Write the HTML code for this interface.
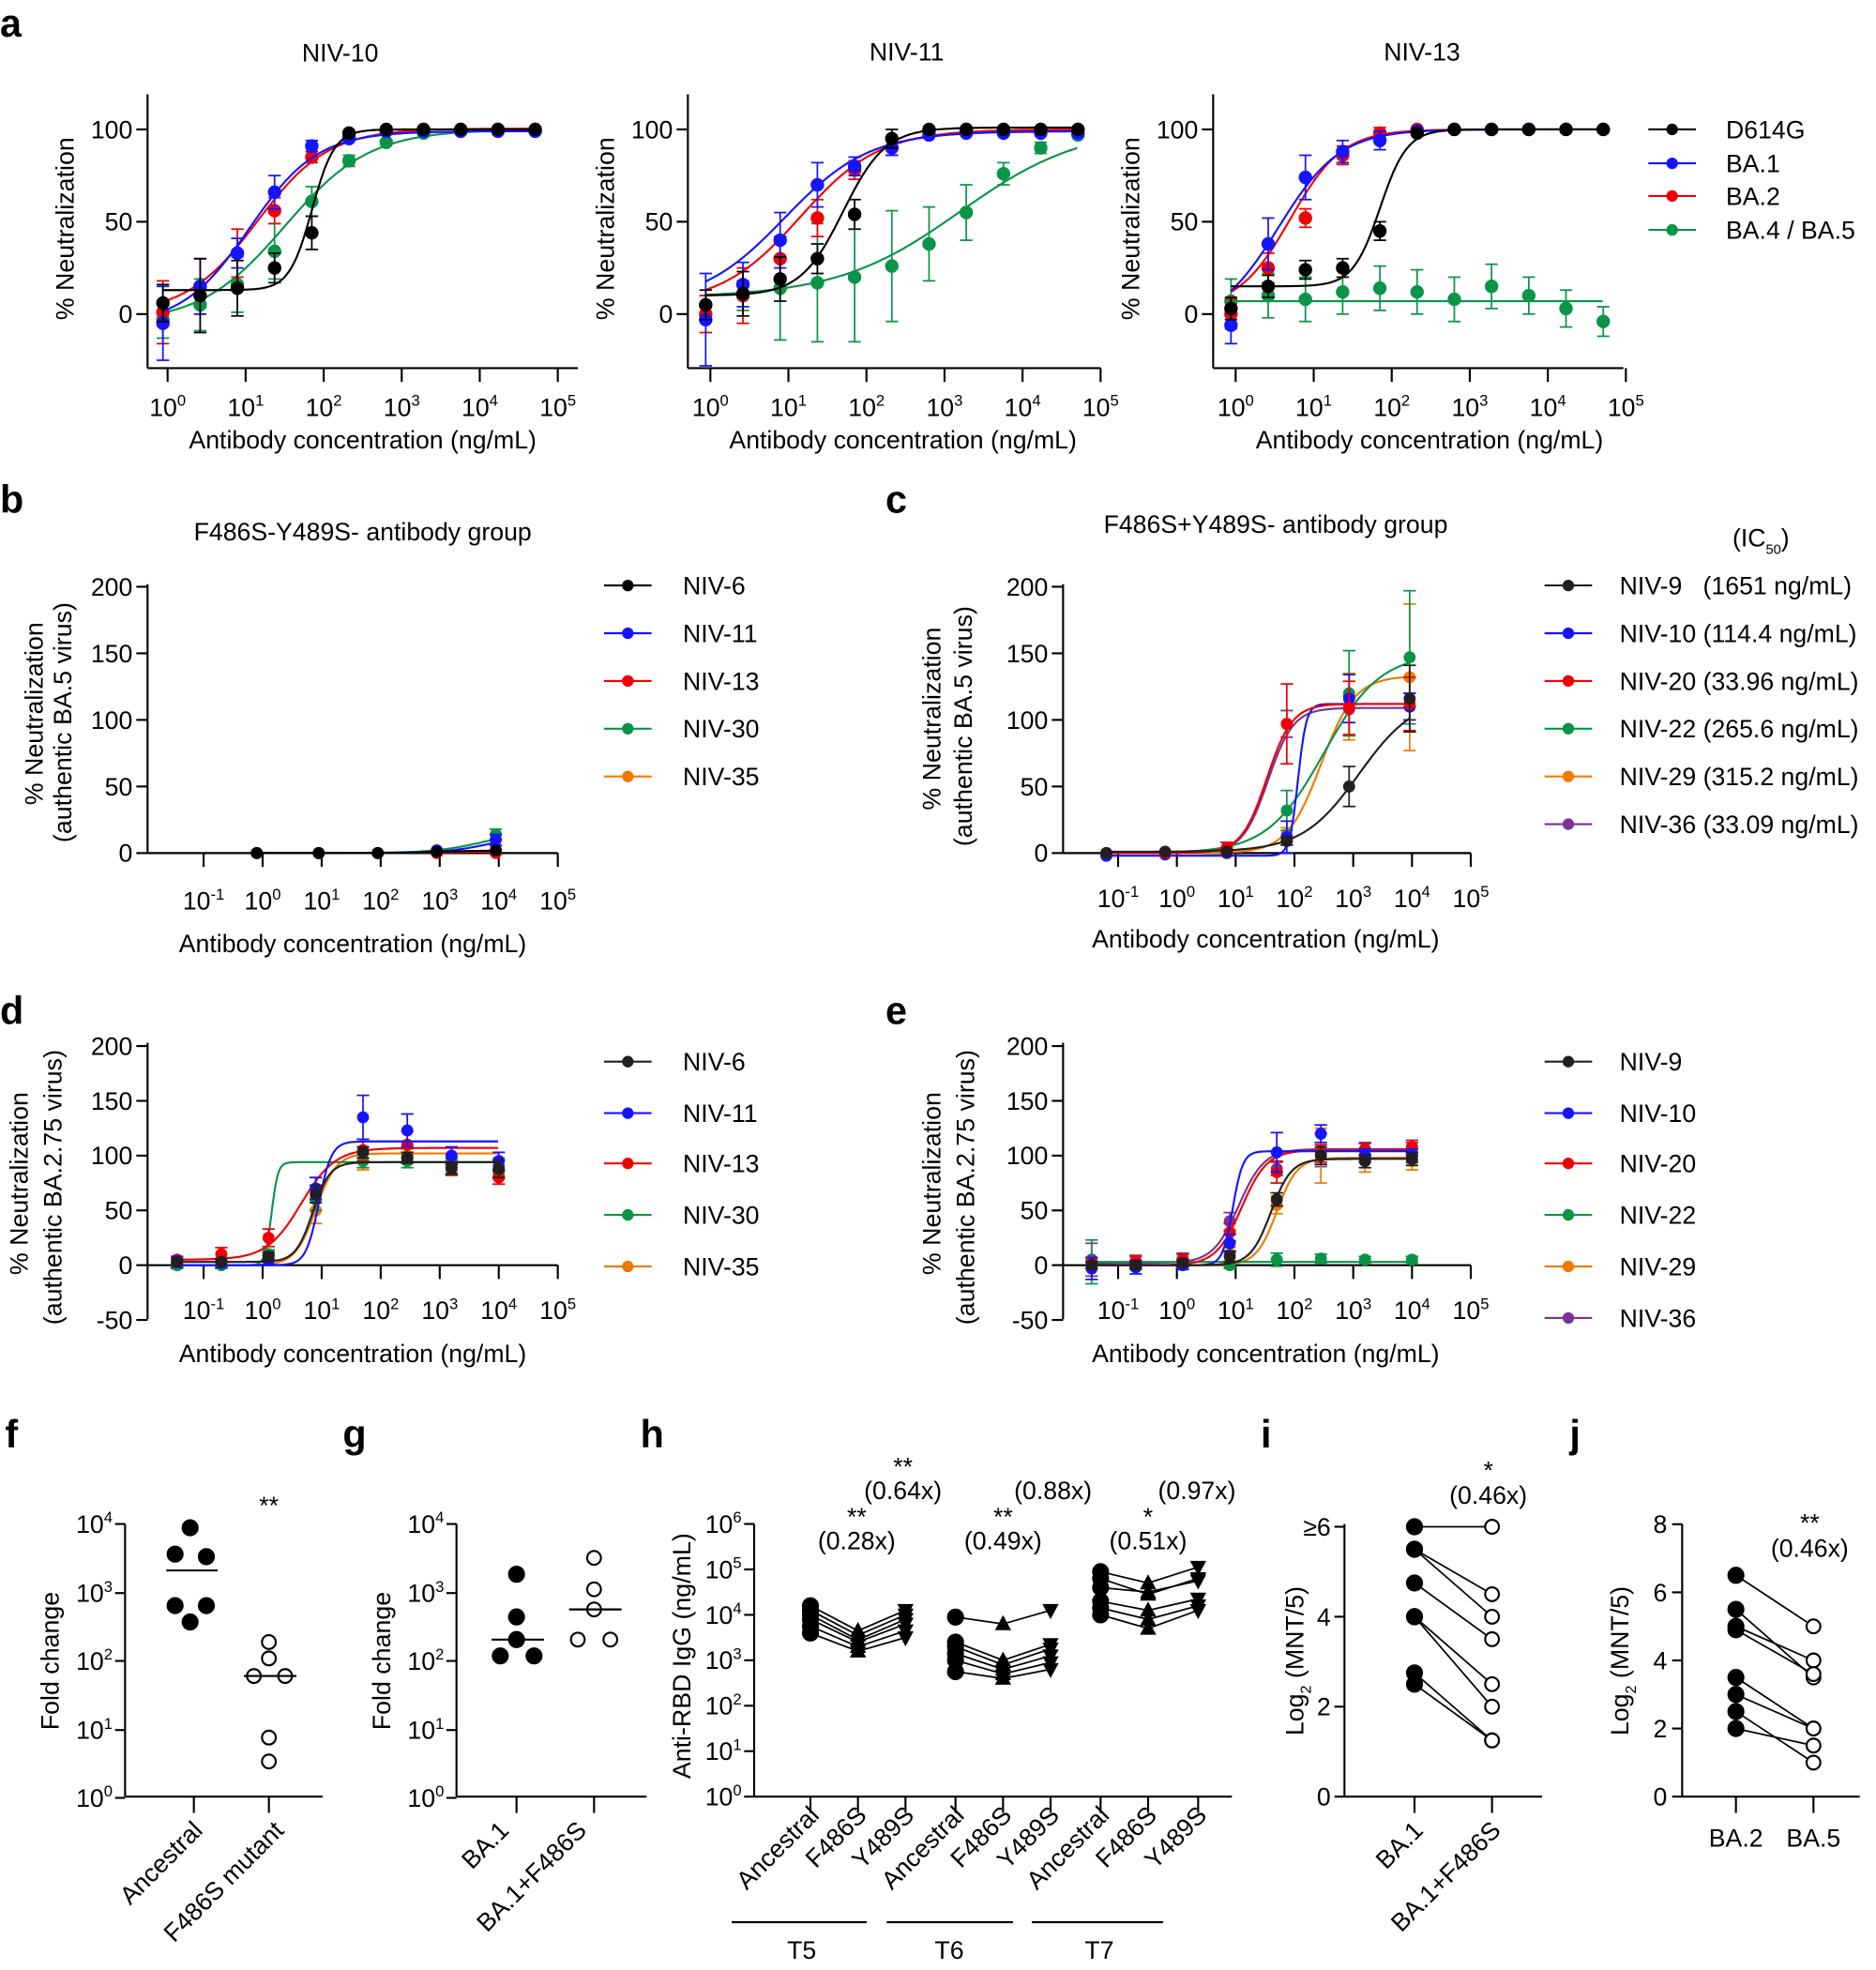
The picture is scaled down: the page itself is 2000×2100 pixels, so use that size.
<!DOCTYPE html>
<html><head><meta charset="utf-8">
<style>html,body{margin:0;padding:0;background:#fff}svg{display:block}text{font-family:"Liberation Sans",Arial,sans-serif;fill:#000}</style>
</head><body>
<svg id="s" xmlns="http://www.w3.org/2000/svg" width="2000" height="2100" viewBox="0 0 1500 1568" preserveAspectRatio="none">
<rect width="1500" height="1568" fill="#fff"/>
<g font-size="31" font-weight="bold">
<text x="0" y="29">a</text><text x="0" y="408">b</text><text x="708" y="408">c</text>
<text x="0" y="815">d</text><text x="708" y="815">e</text>
<text x="4" y="1152">f</text><text x="274" y="1152">g</text><text x="512" y="1152">h</text><text x="1008" y="1152">i</text><text x="1255" y="1152">j</text>
</g>
<g font-size="20" text-anchor="middle">
<text x="272" y="49">NIV-10</text><text x="725" y="48">NIV-11</text><text x="1137" y="48">NIV-13</text>
<text x="290" y="430">F486S-Y489S- antibody group</text>
<text x="1020" y="424">F486S+Y489S- antibody group</text>
<text x="1408" y="435">(IC<tspan dy="6" font-size="11">50</tspan><tspan dy="-6">)</tspan></text>
<text x="290" y="357">Antibody concentration (ng/mL)</text>
<text x="722" y="357">Antibody concentration (ng/mL)</text>
<text x="1143" y="357">Antibody concentration (ng/mL)</text>
<text x="282" y="758">Antibody concentration (ng/mL)</text>
<text x="1012" y="754">Antibody concentration (ng/mL)</text>
<text x="282" y="1084">Antibody concentration (ng/mL)</text>
<text x="1012" y="1084">Antibody concentration (ng/mL)</text>
<text x="59" y="182" transform="rotate(-90 59 182)">% Neutralization</text>
<text x="491" y="182" transform="rotate(-90 491 182)">% Neutralization</text>
<text x="911" y="182" transform="rotate(-90 911 182)">% Neutralization</text>
<text x="34" y="568" transform="rotate(-90 34 568)">%  Neutralization</text>
<text x="57" y="575" transform="rotate(-90 57 575)">(authentic BA.5 virus)</text>
<text x="752" y="572" transform="rotate(-90 752 572)">%  Neutralization</text>
<text x="777" y="578" transform="rotate(-90 777 578)">(authentic BA.5 virus)</text>
<text x="22" y="942" transform="rotate(-90 22 942)">% Neutralization</text>
<text x="49" y="945" transform="rotate(-90 49 945)">(authentic BA.2.75 virus)</text>
<text x="752" y="942" transform="rotate(-90 752 942)">% Neutralization</text>
<text x="779" y="945" transform="rotate(-90 779 945)">(authentic BA.2.75 virus)</text>
<text x="47" y="1322" transform="rotate(-90 47 1322)">Fold change</text>
<text x="312" y="1322" transform="rotate(-90 312 1322)">Fold change</text>
<text x="552" y="1318" transform="rotate(-90 552 1318)">Anti-RBD IgG (ng/mL)</text>
<text x="1042" y="1322" transform="rotate(-90 1042 1322)">Log<tspan dy="6" font-size="12">2</tspan><tspan dy="-6"> (MNT/5)</tspan></text>
<text x="1302" y="1322" transform="rotate(-90 1302 1322)">Log<tspan dy="6" font-size="12">2</tspan><tspan dy="-6"> (MNT/5)</tspan></text>
<text x="215" y="1205">**</text>
<text x="685" y="1214">**</text><text x="685" y="1233">(0.28x)</text>
<text x="722" y="1174">**</text><text x="722" y="1193">(0.64x)</text>
<text x="802" y="1214">**</text><text x="802" y="1233">(0.49x)</text>
<text x="842" y="1193">(0.88x)</text>
<text x="918" y="1214">*</text><text x="918" y="1233">(0.51x)</text>
<text x="957" y="1193">(0.97x)</text>
<text x="1190" y="1177">*</text><text x="1190" y="1197">(0.46x)</text>
<text x="1447" y="1219">**</text><text x="1447" y="1239">(0.46x)</text>
<text x="641" y="1559">T5</text><text x="759" y="1559">T6</text><text x="879" y="1559">T7</text>
<text x="1388" y="1470">BA.2</text><text x="1450" y="1470">BA.5</text>
</g>
<g font-size="20" text-anchor="end">
<text x="163" y="1458" transform="rotate(-45 163 1458)">Ancestral</text>
<text x="228" y="1458" transform="rotate(-45 228 1458)">F486S mutant</text>
<text x="408" y="1458" transform="rotate(-45 408 1458)">BA.1</text>
<text x="470" y="1458" transform="rotate(-45 470 1458)">BA.1+F486S</text>
<text x="656" y="1446" transform="rotate(-45 656 1446)">Ancestral</text>
<text x="694" y="1446" transform="rotate(-45 694 1446)">F486S</text>
<text x="732" y="1446" transform="rotate(-45 732 1446)">Y489S</text>
<text x="772" y="1446" transform="rotate(-45 772 1446)">Ancestral</text>
<text x="810" y="1446" transform="rotate(-45 810 1446)">F486S</text>
<text x="848" y="1446" transform="rotate(-45 848 1446)">Y489S</text>
<text x="888" y="1446" transform="rotate(-45 888 1446)">Ancestral</text>
<text x="926" y="1446" transform="rotate(-45 926 1446)">F486S</text>
<text x="966" y="1446" transform="rotate(-45 966 1446)">Y489S</text>
<text x="1139" y="1458" transform="rotate(-45 1139 1458)">BA.1</text>
<text x="1201" y="1458" transform="rotate(-45 1201 1458)">BA.1+F486S</text>
</g>
<g font-size="20">
<text x="1380" y="110">D614G</text><text x="1380" y="137">BA.1</text><text x="1380" y="163">BA.2</text><text x="1380" y="190">BA.4 / BA.5</text>
<text x="546" y="473">NIV-6</text><text x="546" y="511">NIV-11</text><text x="546" y="549">NIV-13</text><text x="546" y="587">NIV-30</text><text x="546" y="625">NIV-35</text>
<text x="1295" y="473">NIV-9 &#160; (1651 ng/mL)</text><text x="1295" y="511">NIV-10 (114.4 ng/mL)</text><text x="1295" y="549">NIV-20 (33.96 ng/mL)</text>
<text x="1295" y="587">NIV-22 (265.6 ng/mL)</text><text x="1295" y="625">NIV-29 (315.2 ng/mL)</text><text x="1295" y="663">NIV-36 (33.09 ng/mL)</text>
<text x="546" y="852">NIV-6</text><text x="546" y="893">NIV-11</text><text x="546" y="933">NIV-13</text><text x="546" y="974">NIV-30</text><text x="546" y="1015">NIV-35</text>
<text x="1295" y="852">NIV-9</text><text x="1295" y="893">NIV-10</text><text x="1295" y="933">NIV-20</text><text x="1295" y="974">NIV-22</text><text x="1295" y="1015">NIV-29</text><text x="1295" y="1056">NIV-36</text>
</g>
<g id="dyn"></g>
</svg>
<script>
var P=[];
var K='#000',B='#1414ff',R='#f00000',G='#0a9447',O='#f07a00',U='#7b3294';
function L(a,b,c,d,s,w){P.push('<line x1="'+a+'" y1="'+b+'" x2="'+c+'" y2="'+d+'" stroke="'+(s||'#000')+'" stroke-width="'+(w||1.6)+'"/>');}
function T(x,y,s,an){P.push('<text x="'+x+'" y="'+y+'" font-size="20" text-anchor="'+(an||'middle')+'">'+s+'</text>');}
function E(x,y,e,an){P.push('<text x="'+x+'" y="'+y+'" font-size="20" text-anchor="'+(an||'middle')+'">10<tspan dy="-8" font-size="12.5">'+e+'</tspan></text>');}
function C(x,y,r,f,s){P.push('<circle cx="'+x+'" cy="'+y+'" r="'+r+'" fill="'+f+'" stroke="'+(s||f)+'" stroke-width="1.6"/>');}
function PL(pts,s,w){P.push('<polyline points="'+pts.map(function(p){return p[0].toFixed(1)+','+p[1].toFixed(1)}).join(' ')+'" fill="none" stroke="'+s+'" stroke-width="'+(w||1.6)+'"/>');}
function f4(x,b,t,l,h){return b+(t-b)/(1+Math.pow(10,(l-x)*h));}
function plot(c){
  var xo=c.xo,dec=c.dec,yOf=c.yOf;
  function X(l){return xo+dec*l;}
  L(c.x0,c.yTop,c.x0,c.yBot);L(c.x0,c.xAy,c.x1,c.xAy);
  c.yt.forEach(function(v){var y=yOf(v);L(c.x0-9,y,c.x0,y);T(c.x0-12,y+7,String(v),'end');});
  for(var e=c.e0;e<=5;e++){var x=X(e);L(x,c.xAy,x,c.xAy+11);E(x,c.ly,e);}
  c.s.forEach(function(s){
    var pts=[];for(var l=s.L[0];l<=s.L[s.L.length-1]+0.001;l+=0.02)pts.push([X(l),yOf(f4(l,s.b,s.t,s.l,s.h))]);
    PL(pts,s.c);
    s.v.forEach(function(v,i){var x=X(s.L[i]);var er=s.e?s.e[i]:3;
      if(er>2){L(x,yOf(v-er),x,yOf(v+er),s.c,1.3);L(x-5,yOf(v-er),x+5,yOf(v-er),s.c,1.3);L(x-5,yOf(v+er),x+5,yOf(v+er),s.c,1.3);}
      C(x,yOf(v),c.r,s.c);});
  });
}
function leg(x1,x2,ys,cols){ys.forEach(function(y,i){L(x1,y,x2,y,cols[i],1.6);C((x1+x2)/2,y,3.8,cols[i]);});}
var La=[];for(var i=0;i<11;i++)La.push(-0.06+0.477*i);
var ya=function(v){return 250-v*1.47;};
var A=[
 {x0:118,x1:462,xo:134,s:[
  {c:G,b:-5,t:100,l:1.5,h:0.8,v:[-3,5,16,34,61,83,93,98,99,99,99],e:[10,14,15,15,8,3,2,1,1,1,1]},
  {c:R,b:0,t:100.5,l:1.15,h:0.95,v:[1,15,33,56,85,96,99,100,100,100,100],e:[17,15,13,7,3,2,1,1,1,1,1]},
  {c:B,b:-6,t:99,l:1.05,h:1,v:[-5,15,33,66,91,95,99,99,99,99,99],e:[20,15,8,9,3,2,1,1,1,1,1]},
  {c:K,b:13,t:100,l:1.85,h:3,v:[6,10,14,25,44,98,100,100,100,100,100],e:[10,20,15,8,9,2,1,1,1,1,1]}]},
 {x0:550,x1:880,xo:568,s:[
  {c:G,b:9,t:102,l:3.2,h:0.55,v:[5,10,14,17,20,26,38,55,76,90,97],e:[5,8,28,32,35,30,20,15,6,3,2]},
  {c:R,b:5,t:100,l:1.15,h:0.85,v:[0,10,30,52,78,90,99,100,100,100,100],e:[10,15,12,10,5,4,2,1,1,1,1]},
  {c:B,b:5,t:99,l:0.95,h:0.8,v:[-3,16,40,70,80,90,97,98,98,98,98],e:[25,12,15,12,5,4,2,1,1,1,1]},
  {c:K,b:10,t:101,l:1.7,h:1.6,v:[5,11,19,30,54,95,100,100,100,100,100],e:[8,12,12,8,8,5,2,1,1,1,1]}]},
 {x0:970,x1:1298,xo:988,s:[
  {c:G,b:7,t:7,l:2,h:1,v:[7,10,8,12,14,12,8,15,10,3,-4],e:[12,12,12,12,12,12,12,12,10,10,8]},
  {c:R,b:3,t:100,l:0.7,h:1.3,v:[0,25,52,86,98,100,100,100,100,100,100],e:[8,8,5,5,3,2,1,1,1,1,1]},
  {c:B,b:-6,t:100,l:0.55,h:1.1,v:[-6,38,74,88,94,99,100,100,100,100,100],e:[10,14,12,6,5,2,1,1,1,1,1]},
  {c:K,b:15,t:100,l:1.85,h:2.5,v:[3,15,24,25,45,98,100,100,100,100,100],e:[6,6,5,5,5,2,1,1,1,1,1]}]}];
A.forEach(function(p){p.s.forEach(function(s){s.L=La;});
 plot({x0:p.x0,x1:p.x1,yTop:75,yBot:293,xAy:293,xo:p.xo,dec:62.4,yOf:ya,yt:[0,50,100],e0:0,ly:331,r:4.6,s:p.s});});
leg(1318,1356,[103,130,156,183],[K,B,R,G]);
var yb=function(v){return 679-v*1.06;};
var Lb=[-0.1,0.95,1.95,2.95,3.95];
plot({x0:118,x1:446,yTop:465,yBot:679,xAy:679,xo:210,dec:47.2,yOf:yb,yt:[0,50,100,150,200],e0:-1,ly:724,r:4,s:[
 {c:O,b:0,t:2,l:3,h:1,L:Lb,v:[0,0,0,1,2],e:[1,1,1,2,3]},
 {c:G,b:0,t:18,l:3.8,h:1,L:Lb,v:[0,0,0,2,14],e:[1,1,1,2,4]},
 {c:R,b:0,t:1,l:3,h:1,L:Lb,v:[0,0,0,0,0],e:[1,1,1,1,1]},
 {c:B,b:0,t:13,l:3.8,h:1.2,L:Lb,v:[0,0,0,2,10],e:[1,1,1,2,4]},
 {c:K,b:0,t:2,l:3,h:1,L:Lb,v:[0,0,0,1,2],e:[1,1,1,1,2]}]});
leg(483,521,[466,504,542,580,618],[K,B,R,G,O]);
var Lc=[-1.2,-0.2,0.85,1.87,2.93,3.96];
plot({x0:850,x1:1176,yTop:465,yBot:679,xAy:679,xo:941,dec:47,yOf:yb,yt:[0,50,100,150,200],e0:-1,ly:722,r:4,s:[
 {c:U,b:0,t:109,l:1.55,h:2,L:Lc,v:[0,0,3,97,108,110],e:[1,1,5,10,10,10]},
 {c:O,b:0,t:133,l:2.45,h:1.5,L:Lc,v:[0,0,0,14,110,132],e:[1,1,1,5,25,55]},
 {c:G,b:0,t:150,l:2.5,h:0.9,L:Lc,v:[0,0,1,32,120,147],e:[1,1,3,15,32,50]},
 {c:B,b:-2,t:112,l:2.06,h:6,L:Lc,v:[-2,-1,0,12,116,110],e:[1,1,2,12,18,10]},
 {c:R,b:0,t:112,l:1.53,h:2,L:Lc,v:[0,0,4,97,109,112],e:[1,1,4,30,20,20]},
 {c:'#231f20',b:1,t:118,l:3.1,h:0.9,L:Lc,v:[0,1,1,9,50,116],e:[1,1,2,3,15,25]}]});
leg(1235,1273,[466,504,542,580,618,656],['#231f20',B,R,G,O,U]);
var yd=function(v){return 1007-v*0.872;};
var Ld=[-1.45,-0.7,0.1,0.9,1.7,2.45,3.2,4.0];
plot({x0:118,x1:446,yTop:830,yBot:1050,xAy:1007,xo:210,dec:47.2,yOf:yd,yt:[-50,0,50,100,150,200],e0:-1,ly:1050,r:4,s:[
 {c:O,b:0,t:102,l:0.9,h:2.5,L:Ld,v:[0,0,5,50,95,100,95,90],e:[3,3,5,12,8,6,6,8]},
 {c:G,b:0,t:94,l:0.15,h:8,L:Ld,v:[0,0,10,60,95,95,90,85],e:[3,3,4,10,6,6,6,6]},
 {c:R,b:5,t:107,l:0.65,h:1.5,L:Ld,v:[5,10,25,70,105,110,90,80],e:[3,6,8,10,10,12,8,6]},
 {c:B,b:0,t:113,l:0.95,h:4,L:Ld,v:[3,2,5,70,135,123,100,95],e:[5,4,4,10,20,15,8,8]},
 {c:'#231f20',b:3,t:94,l:0.85,h:3,L:Ld,v:[3,3,8,65,103,98,88,88],e:[3,3,4,8,5,5,5,8]}]});
leg(483,521,[845,886,926,967,1008],['#231f20',B,R,G,O]);
plot({x0:850,x1:1176,yTop:830,yBot:1050,xAy:1007,xo:941,dec:47,yOf:yd,yt:[-50,0,50,100,150,200],e0:-1,ly:1050,r:4,s:[
 {c:U,b:2,t:106,l:1.05,h:2,L:Ld,v:[5,4,6,40,88,105,106,106],e:[15,5,5,8,6,15,6,6]},
 {c:O,b:0,t:98,l:1.7,h:2.5,L:Ld,v:[0,0,2,10,55,100,95,95],e:[3,3,3,6,8,25,10,8]},
 {c:G,b:3,t:3,l:1,h:1,L:Ld,v:[3,0,2,0,5,6,5,5],e:[20,4,4,3,6,4,3,3]},
 {c:R,b:0,t:105,l:1.1,h:2,L:Ld,v:[2,3,5,30,85,102,105,108],e:[5,5,5,8,10,8,6,6]},
 {c:B,b:0,t:104,l:0.95,h:5,L:Ld,v:[-3,-2,0,20,103,120,100,100],e:[10,6,4,8,18,8,6,6]},
 {c:'#231f20',b:0,t:97,l:1.6,h:2.5,L:Ld,v:[0,0,2,8,60,100,95,97],e:[3,3,3,5,6,8,6,6]}]});
leg(1235,1273,[845,886,926,967,1008,1049],['#231f20',B,R,G,O,U]);
function logAx(x0,x1,ys,ticks){L(x0,1213,x0,1430);L(x0,1430,x1,1430);
 ys.forEach(function(y,i){L(x0-8,y,x0,y);E(x0-10,y+7,ys.length-1-i,'end');});
 ticks.forEach(function(x){L(x,1430,x,1443);});}
var fy=[1213,1268,1322,1377,1431];
logAx(100,258,fy,[155,215]);
[[152,1216],[140,1237],[165,1239],[140,1278],[165,1278],[152,1291]].forEach(function(p){C(p[0],p[1],6,'#000');});
L(133,1250,174,1250,'#000',1.6);
[[215,1307],[215,1320],[203,1334],[228,1334],[215,1383],[215,1402]].forEach(function(p){C(p[0],p[1],5.5,'#fff','#000');});
L(195,1334,237,1334,'#000',1.6);
logAx(365,517,fy,[413,475]);
[[413,1253],[413,1287],[413,1305],[400,1318],[427,1318]].forEach(function(p){C(p[0],p[1],6,'#000');});
L(393,1305,435,1305,'#000',1.6);
[[475,1240],[475,1265],[475,1281],[462,1305],[488,1305]].forEach(function(p){C(p[0],p[1],5.5,'#fff','#000');});
L(455,1281,497,1281,'#000',1.6);
L(603,1213,603,1430);L(603,1430,985,1430);
for(var k=0;k<=6;k++){var y=1430-k*36.17;L(595,y,603,y);E(593,y+7,k,'end');}
var hx=[648,686,724,764,802,840,880,918,958];hx.forEach(function(x){L(x,1430,x,1443);});
function hy(l){return 1430-l*36.17;}
var H=[[[4.2,4.1,4.0,3.9,3.75,3.6],[3.65,3.55,3.45,3.4,3.3,3.2],[4.1,4.0,3.9,3.8,3.65,3.5]],
 [[3.95,3.4,3.3,3.15,3.0,2.75],[3.8,3.0,2.9,2.8,2.7,2.6],[4.1,3.35,3.25,3.1,2.95,2.8]],
 [[4.95,4.8,4.6,4.3,4.15,4.0],[4.7,4.45,4.5,4.1,3.9,3.7],[5.05,4.8,4.75,4.35,4.2,4.1]]];
H.forEach(function(g,gi){var xs=[hx[gi*3],hx[gi*3+1],hx[gi*3+2]];
 for(var j=0;j<6;j++){PL([[xs[0],hy(g[0][j])],[xs[1],hy(g[1][j])],[xs[2],hy(g[2][j])]],'#000',1.3);}
 for(var j=0;j<6;j++){C(xs[0],hy(g[0][j]),6,'#000');
  var x=xs[1],y=hy(g[1][j]);P.push('<polygon points="'+x+','+(y-7)+' '+(x-6.5)+','+(y+5)+' '+(x+6.5)+','+(y+5)+'" fill="#000"/>');
  x=xs[2];y=hy(g[2][j]);P.push('<polygon points="'+x+','+(y+7)+' '+(x-6.5)+','+(y-5)+' '+(x+6.5)+','+(y-5)+'" fill="#000"/>');}
});
L(585,1530,693,1530);L(709,1530,810,1530);L(825,1530,930,1530);
L(1075,1213,1075,1430);L(1075,1430,1233,1430);
[['≥6',6],['4',4],['2',2],['0',0]].forEach(function(t){var y=1430-t[1]*35.8;L(1067,y,1075,y);T(1064,y+7,t[0],'end');});
L(1131,1430,1131,1443);L(1193,1430,1193,1443);
var iy=function(v){return 1430-v*35.8;};
var I=[[6,6],[5.5,4.5],[5.5,4],[4.75,3.5],[4,2.5],[4,2],[2.75,1.25],[2.5,1.25]];
I.forEach(function(p){L(1131,iy(p[0]),1193,iy(p[1]),'#000',1.3);});
I.forEach(function(p){C(1131,iy(p[0]),6,'#000');C(1193,iy(p[1]),5.5,'#fff','#000');});
L(1345,1213,1345,1430);L(1345,1430,1487,1430);
[8,6,4,2,0].forEach(function(v){var y=1430-v*27.1;L(1337,y,1345,y);T(1333,y+7,String(v),'end');});
L(1388,1430,1388,1443);L(1450,1430,1450,1443);
var jy=function(v){return 1430-v*27.1;};
var J=[[6.5,5],[5.5,3.5],[5,4],[4.9,3.6],[3.5,2],[3,2],[2.5,1],[2,1.5]];
J.forEach(function(p){L(1388,jy(p[0]),1450,jy(p[1]),'#000',1.3);});
J.forEach(function(p){C(1388,jy(p[0]),6,'#000');C(1450,jy(p[1]),5.5,'#fff','#000');});
document.getElementById('dyn').innerHTML=P.join('');
</script>
</body></html>
